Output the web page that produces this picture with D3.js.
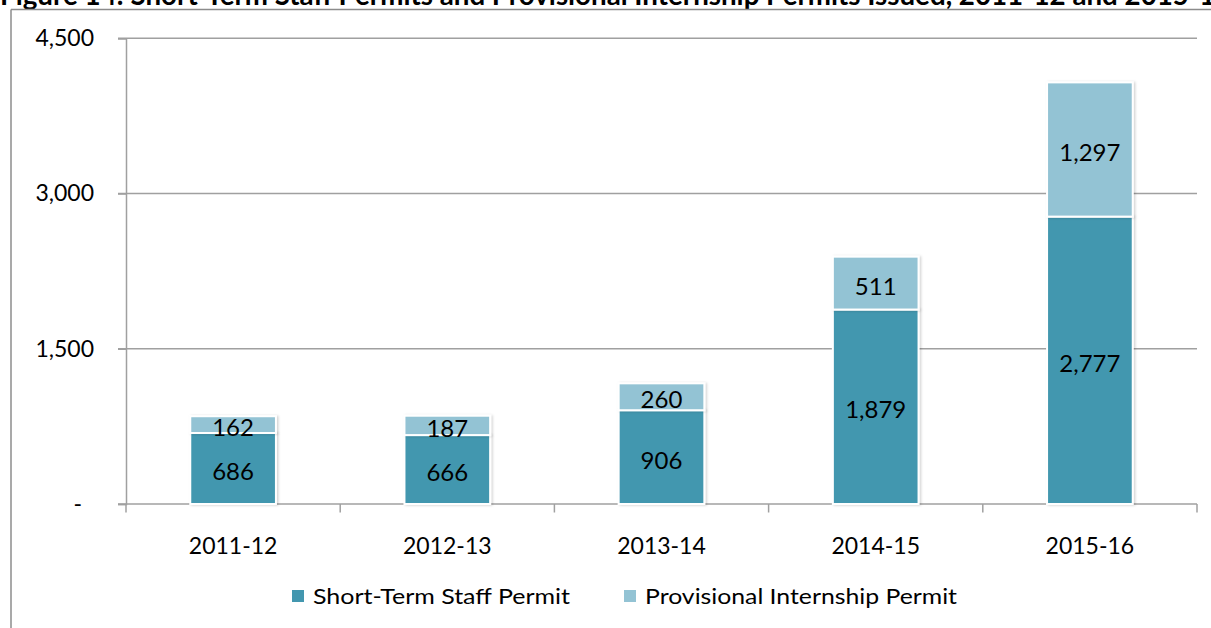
<!DOCTYPE html>
<html>
<head>
<meta charset="utf-8">
<script src="https://cdn.jsdelivr.net/npm/d3@7"></script>
<style>
  html, body { margin: 0; padding: 0; background: #fff; }
  svg { display: block; }
  text { font-family: Lato, "Open Sans", sans-serif; fill: #000; }
</style>
</head>
<body>
<script>
// ---- data ----
const titleText = "Figure 14: Short-Term Staff Permits and Provisional Internship Permits Issued, 2011-12 and 2015-16";
const categories = ["2011-12", "2012-13", "2013-14", "2014-15", "2015-16"];
const seriesNames = ["Short-Term Staff Permit", "Provisional Internship Permit"];
const shortTermStaff = [686, 666, 906, 1879, 2777];
const provisionalInternship = [162, 187, 260, 511, 1297];
const yTicks = [0, 1500, 3000, 4500];

// ---- layout ----
const W = 1211, H = 628;
const plot = { left: 126, right: 1197, top: 38.3, bottom: 504 };
const colors = ["#4397AF", "#93C3D4"];

const svg = d3.select("body").append("svg").attr("width", W).attr("height", H);

const defs = svg.append("defs");
const f = defs.append("filter").attr("id", "sh").attr("x", "-20%").attr("y", "-20%").attr("width", "140%").attr("height", "140%");
f.append("feDropShadow").attr("dx", 1.5).attr("dy", 0.5).attr("stdDeviation", 1.2).attr("flood-color", "#000").attr("flood-opacity", 0.18);

// title (cut off at top, as in the source)
const title = svg.append("text")
  .attr("x", 0).attr("y", 4.5)
  .style("font-weight", "bold").style("font-size", "24px")
  .text(titleText);
try {
  const idx = titleText.indexOf("Issued") + 3;
  const w = title.node().getSubStringLength(0, idx);
  title.style("font-size", (24 * 900 / w) + "px");
} catch (e) {}

// frame
svg.append("line").attr("x1", 11).attr("x2", W).attr("y1", 9.5).attr("y2", 9.5)
  .attr("stroke", "#8c8c8c").attr("stroke-width", 1.5);
svg.append("line").attr("x1", 11).attr("x2", 11).attr("y1", 9.5).attr("y2", H)
  .attr("stroke", "#8c8c8c").attr("stroke-width", 1.5);

// scales
const x = d3.scaleBand().domain(categories).range([plot.left, plot.right]).padding(0);
const y = d3.scaleLinear().domain([0, 4500]).range([plot.bottom, plot.top]);

const gridColor = "#a0a0a0";

// gridlines
svg.append("g").selectAll("line").data(yTicks.filter(d => d > 0)).join("line")
  .attr("x1", plot.left - 8).attr("x2", plot.right)
  .attr("y1", d => y(d)).attr("y2", d => y(d))
  .attr("stroke", gridColor).attr("stroke-width", 1.5);

// y axis
const yAxis = svg.append("g").attr("transform", `translate(${plot.left},0)`)
  .call(d3.axisLeft(y).tickValues(yTicks).tickSize(8).tickPadding(24)
    .tickFormat(d => d === 0 ? "-" : d3.format(",")(d)));
yAxis.select(".domain").attr("stroke", gridColor).attr("stroke-width", 1.5);
yAxis.selectAll(".tick line").attr("stroke", gridColor).attr("stroke-width", 1.5);
yAxis.selectAll(".tick text").style("font-size", "23px").style("font-family", "Lato").attr("fill", "#000");
yAxis.selectAll(".tick text").filter(d => d === 0).attr("dx", -12);

// x axis
const xAxis = svg.append("g").attr("transform", `translate(0,${plot.bottom})`)
  .call(d3.axisBottom(x).tickSize(0).tickPadding(34));
xAxis.select(".domain").remove();
xAxis.selectAll(".tick text").style("font-size", "23px").style("font-family", "Lato").attr("fill", "#000");
// category boundary ticks
const bounds = categories.map(c => x(c)).concat([x(categories[categories.length - 1]) + x.bandwidth()]);
svg.append("g").selectAll("line").data(bounds).join("line")
  .attr("x1", d => d).attr("x2", d => d).attr("y1", plot.bottom).attr("y2", plot.bottom + 8.5)
  .attr("stroke", gridColor).attr("stroke-width", 1.5);
svg.append("line").attr("x1", plot.left - 8).attr("x2", plot.right)
  .attr("y1", plot.bottom).attr("y2", plot.bottom)
  .attr("stroke", gridColor).attr("stroke-width", 1.5);

// stacked bars
const rows = categories.map((c, i) => ({ cat: c, s0: shortTermStaff[i], s1: provisionalInternship[i] }));
const stack = d3.stack().keys(["s0", "s1"]);
const layers = stack(rows);
const barW = x.bandwidth() * 0.4;

const gBars = svg.append("g");
layers.forEach((layer, li) => {
  gBars.append("g").selectAll("rect").data(layer).join("rect")
    .attr("x", d => x(d.data.cat) + (x.bandwidth() - barW) / 2)
    .attr("width", barW)
    .attr("y", d => y(d[1]))
    .attr("height", d => y(d[0]) - y(d[1]))
    .attr("fill", colors[li])
    .attr("stroke", "#fff").attr("stroke-width", 2)
    .attr("filter", "url(#sh)");
});

// labels
layers.forEach((layer, li) => {
  svg.append("g").selectAll("text").data(layer).join("text")
    .attr("x", d => x(d.data.cat) + x.bandwidth() / 2)
    .attr("y", d => (y(d[0]) + y(d[1])) / 2 + 2)
    .attr("text-anchor", "middle").attr("dominant-baseline", "central")
    .style("font-size", "24px")
    .text(d => d3.format(",")(d[1] - d[0]));
});

// legend
const legendItems = [
  { name: seriesNames[0], color: colors[0], x: 292, len: 257 },
  { name: seriesNames[1], color: colors[1], x: 624, len: 312 }
];
const lg = svg.append("g").selectAll("g").data(legendItems).join("g")
  .attr("transform", d => `translate(${d.x},590)`);
lg.append("rect").attr("width", 12).attr("height", 12).attr("fill", d => d.color);
lg.append("text").attr("x", 21).attr("y", 6).attr("dominant-baseline", "central")
  .style("font-size", "21.5px")
  .attr("textLength", d => d.len).attr("lengthAdjust", "spacingAndGlyphs")
  .text(d => d.name);
</script>
</body>
</html>
